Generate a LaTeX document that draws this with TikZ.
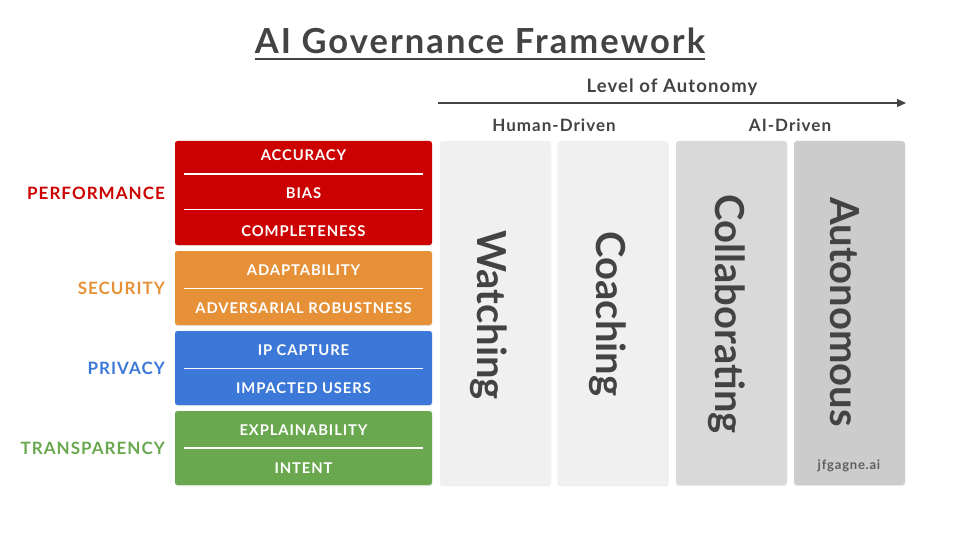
\documentclass[tikz,border=0pt]{standalone}
\usepackage{fontspec}
\setmainfont{Lato}
\newfontfamily\widefont{Lato}[LetterSpace=6]
\usetikzlibrary{arrows.meta,shadows}

\definecolor{perfred}{HTML}{CC0000}
\definecolor{secorange}{HTML}{E69138}
\definecolor{privblue}{HTML}{3C78D8}
\definecolor{transgreen}{HTML}{6AA84F}
\definecolor{inkgray}{HTML}{434343}
\definecolor{humancol}{HTML}{F0F0F0}
\definecolor{collabcol}{HTML}{D9D9D9}
\definecolor{autocol}{HTML}{CCCCCC}

\begin{document}
\begin{tikzpicture}[x=1pt,y=-1pt]
\tikzset{
  catbox/.style={rectangle,rounded corners=2.5pt,inner sep=0pt,minimum width=257pt,
    drop shadow={opacity=0.18,shadow xshift=0pt,shadow yshift=-1.2pt}},
  itemtext/.style={font=\widefont\bfseries\fontsize{14.8}{16}\selectfont,text=white,inner sep=0pt},
  sepline/.style={draw=white,line width=1.3pt},
  catlabel/.style={font=\widefont\bfseries\fontsize{17}{20}\selectfont,anchor=east,inner sep=0pt},
  stagecol/.style={rectangle,rounded corners=3pt,inner sep=0pt,minimum width=111pt,minimum height=344pt,
    drop shadow={opacity=0.15,shadow xshift=0pt,shadow yshift=-1.2pt}},
  stagetext/.style={font=\bfseries\fontsize{40}{44}\selectfont,text=inkgray,rotate=-90,inner sep=0pt},
  headtext/.style={font=\widefont\bfseries\fontsize{17}{19}\selectfont,text=inkgray,inner sep=0pt}
}
\useasboundingbox[fill=white] (0,0) rectangle (960,540);

% title
\node[font=\widefont\bfseries\fontsize{34.5}{38}\selectfont,text=inkgray,inner sep=0pt] (title) at (480,41) {AI Governance Framework};
\draw[inkgray,line width=2.2pt] ([yshift=-5pt]title.south west) -- ([yshift=-5pt]title.south east);

% autonomy axis
\coordinate (ax_start) at (438,103);
\coordinate (ax_end) at (906,103);
\draw[inkgray,line width=1.3pt,-{Triangle[length=9pt,width=8pt]}] (ax_start) -- (ax_end);
\node[headtext,font=\widefont\bfseries\fontsize{18.5}{20}\selectfont] (ax_label) at (672,87) {Level of Autonomy};
\node[headtext] (h_human) at (554,125) {Human-Driven};
\node[headtext] (h_ai) at (790,125) {AI-Driven};

% categories
\node[catbox,fill=perfred,minimum height=104pt] (b_perf) at (303.5,193) {};
\node[catbox,fill=secorange,minimum height=74pt] (b_sec) at (303.5,288) {};
\node[catbox,fill=privblue,minimum height=74pt] (b_priv) at (303.5,368) {};
\node[catbox,fill=transgreen,minimum height=74pt] (b_trans) at (303.5,448) {};

\node[catlabel,text=perfred] (l_perf) at (165,193) {PERFORMANCE};
\node[catlabel,text=secorange] (l_sec) at (165,288) {SECURITY};
\node[catlabel,text=privblue] (l_priv) at (165,368) {PRIVACY};
\node[catlabel,text=transgreen] (l_trans) at (165,448) {TRANSPARENCY};

\node[itemtext] (i_acc) at (303.5,155.5) {ACCURACY};
\node[itemtext] (i_bias) at (303.5,193) {BIAS};
\node[itemtext] (i_compl) at (303.5,231.5) {COMPLETENESS};
\node[itemtext] (i_adapt) at (303.5,270) {ADAPTABILITY};
\node[itemtext] (i_adv) at (303.5,308) {ADVERSARIAL ROBUSTNESS};
\node[itemtext] (i_ip) at (303.5,350) {IP CAPTURE};
\node[itemtext] (i_users) at (303.5,388) {IMPACTED USERS};
\node[itemtext] (i_expl) at (303.5,430) {EXPLAINABILITY};
\node[itemtext] (i_intent) at (303.5,468) {INTENT};

\draw[sepline] (184,174) -- (423,174);
\draw[sepline] (184,209.5) -- (423,209.5);
\draw[sepline] (184,288.5) -- (423,288.5);
\draw[sepline] (184,368.5) -- (423,368.5);
\draw[sepline] (184,448) -- (423,448);

% stages
\node[stagecol,fill=humancol] (c_watch) at (495.5,313) {};
\node[stagecol,fill=humancol] (c_coach) at (613,313) {};
\node[stagecol,fill=collabcol] (c_collab) at (731.5,313) {};
\node[stagecol,fill=autocol] (c_auto) at (849.5,313) {};

\node[stagetext] (s_watch) at (489,315) {Watching};
\node[stagetext] (s_coach) at (608,314) {Coaching};
\node[stagetext] (s_collab) at (727,314) {Collaborating};
\node[stagetext] (s_auto) at (845,312) {Autonomous};

\node[font=\widefont\bfseries\fontsize{13}{15}\selectfont,text=inkgray!85,inner sep=0pt] (credit) at (849,466) {jfgagne.ai};
\end{tikzpicture}
\end{document}
